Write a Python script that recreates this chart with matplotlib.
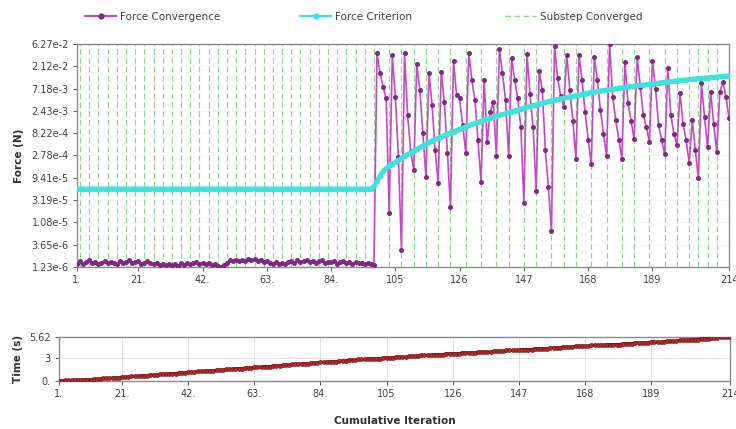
import numpy as np
import matplotlib
matplotlib.use("Agg")
import matplotlib.pyplot as plt
from matplotlib.lines import Line2D

# ---------------------------------------------------------------- data
iterations = np.arange(1, 215)

force_convergence = [
    # substeps 1-33 (iterations 1-98)
    1.45e-6, 1.62e-6, 1.40e-6, 1.55e-6, 1.70e-6, 1.48e-6, 1.58e-6, 1.42e-6, 1.50e-6, 1.66e-6,
    1.46e-6, 1.60e-6, 1.52e-6, 1.43e-6, 1.68e-6, 1.50e-6, 1.57e-6, 1.72e-6, 1.47e-6, 1.55e-6,
    1.62e-6, 1.44e-6, 1.51e-6, 1.66e-6, 1.49e-6, 1.40e-6, 1.53e-6, 1.38e-6, 1.45e-6, 1.35e-6,
    1.42e-6, 1.33e-6, 1.40e-6, 1.30e-6, 1.46e-6, 1.38e-6, 1.52e-6, 1.41e-6, 1.48e-6, 1.56e-6,
    1.44e-6, 1.50e-6, 1.39e-6, 1.47e-6, 1.36e-6, 1.42e-6, 1.32e-6, 1.23e-6, 1.38e-6, 1.52e-6,
    1.74e-6, 1.66e-6, 1.70e-6, 1.62e-6, 1.76e-6, 1.68e-6, 1.82e-6, 1.71e-6, 1.78e-6, 1.64e-6,
    1.69e-6, 1.58e-6, 1.63e-6, 1.50e-6, 1.44e-6, 1.55e-6, 1.39e-6, 1.47e-6, 1.41e-6, 1.56e-6,
    1.62e-6, 1.50e-6, 1.70e-6, 1.58e-6, 1.66e-6, 1.74e-6, 1.55e-6, 1.68e-6, 1.52e-6, 1.63e-6,
    1.71e-6, 1.49e-6, 1.60e-6, 1.54e-6, 1.67e-6, 1.45e-6, 1.58e-6, 1.62e-6, 1.48e-6, 1.55e-6,
    1.43e-6, 1.60e-6, 1.47e-6, 1.52e-6, 1.40e-6, 1.50e-6, 1.44e-6, 1.38e-6,
    # substeps 34-60 (iterations 99-214)
    4.0e-2, 1.5e-2, 7.9e-3, 4.45e-3, 1.7e-5,
    3.67e-2, 4.8e-3, 2.6e-4, 2.8e-6,
    4.0e-2, 2.0e-3, 3.5e-4, 1.36e-4,
    2.37e-2, 6.7e-3, 8.1e-4, 9.8e-5,
    1.55e-2, 3.2e-3, 3.6e-4, 7.3e-5,
    1.63e-2, 3.8e-3, 3.2e-4, 2.3e-5,
    2.79e-2, 5.2e-3, 4.45e-3, 1.2e-3, 3.2e-4,
    4.1e-2, 1.09e-2, 4.1e-3, 5.8e-4, 7.7e-5,
    1.09e-2, 5.4e-4, 2.3e-3, 3.8e-3, 2.7e-4,
    4.8e-2, 1.5e-2, 4.1e-3, 2.7e-4,
    3.12e-2, 1.09e-2, 4.45e-3, 1.1e-3, 2.8e-5,
    3.85e-2, 5.5e-3, 1.1e-3, 5.0e-5,
    1.71e-2, 6.7e-3, 3.6e-4, 6.0e-5, 7.1e-6,
    5.7e-2, 1.2e-2, 5.0e-3, 2.97e-3,
    3.67e-2, 6.7e-3, 1.5e-3, 2.4e-4,
    3.67e-2, 1.09e-2, 2.3e-3, 6.0e-4, 1.82e-4,
    3.27e-2, 1.09e-2, 2.5e-3, 8.0e-4, 2.7e-4,
    6.27e-2, 4.8e-3, 1.55e-3, 6.0e-4, 2.4e-4,
    2.65e-2, 3.5e-3, 1.5e-3, 6.05e-4,
    3.27e-2, 7.9e-3, 2.0e-3, 1.12e-3, 5.4e-4,
    2.79e-2, 7.2e-3, 1.2e-3, 5.8e-4, 3.0e-4,
    1.92e-2, 1.98e-3, 8.0e-4, 4.6e-4,
    5.9e-3, 1.3e-3, 5.8e-4, 1.94e-4,
    1.55e-3, 3.6e-4, 9.1e-5,
    9.2e-3, 1.8e-3, 4.2e-4,
    6.2e-3, 1.3e-3, 3.3e-4,
    6.0e-3, 1.0e-2, 4.8e-3, 1.7e-3,
]

force_criterion = [
    5.5e-5, 5.5e-5, 5.5e-5, 5.5e-5, 5.5e-5, 5.5e-5, 5.5e-5, 5.5e-5, 5.5e-5, 5.5e-5,
    5.5e-5, 5.5e-5, 5.5e-5, 5.5e-5, 5.5e-5, 5.5e-5, 5.5e-5, 5.5e-5, 5.5e-5, 5.5e-5,
    5.5e-5, 5.5e-5, 5.5e-5, 5.5e-5, 5.5e-5, 5.5e-5, 5.5e-5, 5.5e-5, 5.5e-5, 5.5e-5,
    5.5e-5, 5.5e-5, 5.5e-5, 5.5e-5, 5.5e-5, 5.5e-5, 5.5e-5, 5.5e-5, 5.5e-5, 5.5e-5,
    5.5e-5, 5.5e-5, 5.5e-5, 5.5e-5, 5.5e-5, 5.5e-5, 5.5e-5, 5.5e-5, 5.5e-5, 5.5e-5,
    5.5e-5, 5.5e-5, 5.5e-5, 5.5e-5, 5.5e-5, 5.5e-5, 5.5e-5, 5.5e-5, 5.5e-5, 5.5e-5,
    5.5e-5, 5.5e-5, 5.5e-5, 5.5e-5, 5.5e-5, 5.5e-5, 5.5e-5, 5.5e-5, 5.5e-5, 5.5e-5,
    5.5e-5, 5.5e-5, 5.5e-5, 5.5e-5, 5.5e-5, 5.5e-5, 5.5e-5, 5.5e-5, 5.5e-5, 5.5e-5,
    5.5e-5, 5.5e-5, 5.5e-5, 5.5e-5, 5.5e-5, 5.5e-5, 5.5e-5, 5.5e-5, 5.5e-5, 5.5e-5,
    5.5e-5, 5.5e-5, 5.5e-5, 5.5e-5, 5.5e-5, 5.5e-5, 5.5e-5, 6.2e-5, 8.0e-5, 1.05e-4,
    1.3e-4, 1.5e-4, 1.7e-4, 1.85e-4, 2.0e-4, 2.2e-4, 2.45e-4, 2.7e-4, 2.95e-4, 3.2e-4,
    3.5e-4, 3.8e-4, 4.1e-4, 4.5e-4, 4.9e-4, 5.3e-4, 5.7e-4, 6.1e-4, 6.5e-4, 6.9e-4,
    7.4e-4, 7.9e-4, 8.4e-4, 8.9e-4, 9.5e-4, 1.01e-3, 1.07e-3, 1.13e-3, 1.2e-3, 1.27e-3,
    1.34e-3, 1.41e-3, 1.48e-3, 1.56e-3, 1.64e-3, 1.72e-3, 1.8e-3, 1.88e-3, 1.97e-3, 2.06e-3,
    2.15e-3, 2.25e-3, 2.35e-3, 2.46e-3, 2.57e-3, 2.68e-3, 2.8e-3, 2.92e-3, 3.05e-3, 3.18e-3,
    3.31e-3, 3.44e-3, 3.57e-3, 3.7e-3, 3.84e-3, 3.98e-3, 4.12e-3, 4.26e-3, 4.41e-3, 4.56e-3,
    4.71e-3, 4.86e-3, 5.01e-3, 5.16e-3, 5.32e-3, 5.48e-3, 5.64e-3, 5.8e-3, 5.96e-3, 6.12e-3,
    6.28e-3, 6.44e-3, 6.6e-3, 6.76e-3, 6.92e-3, 7.08e-3, 7.24e-3, 7.4e-3, 7.56e-3, 7.72e-3,
    7.88e-3, 8.04e-3, 8.2e-3, 8.36e-3, 8.52e-3, 8.68e-3, 8.85e-3, 9.02e-3, 9.19e-3, 9.36e-3,
    9.53e-3, 9.7e-3, 9.87e-3, 1.004e-2, 1.021e-2, 1.038e-2, 1.055e-2, 1.072e-2, 1.089e-2, 1.106e-2,
    1.123e-2, 1.14e-2, 1.157e-2, 1.174e-2, 1.191e-2, 1.208e-2, 1.225e-2, 1.243e-2, 1.261e-2, 1.279e-2,
    1.297e-2, 1.315e-2, 1.333e-2, 1.351e-2,
]

# iterations at which a substep converged
substep_converged = [
    2, 5, 8, 11, 14, 17, 20, 23, 26, 29, 32, 35, 38, 41, 44, 47, 50,
    53, 56, 59, 62, 65, 68, 71, 74, 77, 80, 83, 86, 89, 92, 95, 98,
    103, 107, 111, 115, 119, 123, 128, 133, 138, 142, 147, 151, 156,
    160, 164, 169, 174, 179, 183, 188, 193, 197, 201, 204, 207, 210,
]

# solution time of each substep (s); the last substep is still running
substep_time = [
    0.04, 0.08, 0.12, 0.17, 0.24, 0.32, 0.41, 0.50, 0.59, 0.68, 0.77,
    0.86, 0.95, 1.04, 1.13, 1.22, 1.31, 1.40, 1.49, 1.58, 1.67, 1.76,
    1.85, 1.94, 2.03, 2.12, 2.21, 2.30, 2.39, 2.48, 2.57, 2.66, 2.75,
    2.85, 2.96, 3.06, 3.17, 3.28, 3.38, 3.49, 3.60, 3.70, 3.81, 3.92,
    4.02, 4.13, 4.24, 4.34, 4.45, 4.56, 4.66, 4.77, 4.88, 4.98, 5.09,
    5.20, 5.30, 5.41, 5.52, 5.62,
]

x_ticks = [1, 21, 42, 63, 84, 105, 126, 147, 168, 189, 214]
x_tick_labels = ["1.", "21.", "42.", "63.", "84.", "105", "126", "147", "168", "189", "214"]
force_ticks = [1.23e-6, 3.65e-6, 1.08e-5, 3.19e-5, 9.41e-5, 2.78e-4,
               8.22e-4, 2.43e-3, 7.18e-3, 2.12e-2, 6.27e-2]
force_tick_labels = ["1.23e-6", "3.65e-6", "1.08e-5", "3.19e-5", "9.41e-5", "2.78e-4",
                     "8.22e-4", "2.43e-3", "7.18e-3", "2.12e-2", "6.27e-2"]
time_ticks = [0, 3, 5.62]
time_tick_labels = ["0.", "3", "5.62"]

# time value for every iteration of each substep
substep_ends = substep_converged + [int(iterations[-1])]
iters_per_substep = np.diff([0] + substep_ends)
time_per_iteration = np.repeat(substep_time, iters_per_substep)

# ---------------------------------------------------------------- style
C_FORCE = "#c24ac2"
C_FORCE_MK = "#7e2a82"
C_CRIT = "#3fe3da"
C_SUB = "#94d394"
C_TIME = "#7a1414"
C_TIME_MK = "#b52a2a"
C_TXT = "#404040"
C_FRAME = "#8a8a8a"

plt.rcParams["font.family"] = ["DejaVu Sans"]

fig = plt.figure(figsize=(7.36, 4.29), dpi=100)
fig.patch.set_facecolor("white")

# ---------------------------------------------------------------- force plot
ax1 = fig.add_axes([77 / 736, 1 - 267 / 429, 652 / 736, 223 / 429])
for it in substep_converged:
    ax1.axvline(it, color=C_SUB, lw=0.85, ls=(0, (5, 2.5)), zorder=1)
ax1.set_yscale("log")
ax1.set_xlim(1, 214)
ax1.set_ylim(1.23e-6, 6.27e-2)
ax1.plot(iterations, force_convergence, color=C_FORCE, lw=1.2, marker="o", ms=2.6,
         mfc=C_FORCE_MK, mec=C_FORCE_MK, zorder=3)
ax1.plot(iterations, force_criterion, color=C_CRIT, lw=3.3, marker="o", ms=2.8,
         mfc=C_CRIT, mec=C_CRIT, zorder=4)
ax1.set_yticks(force_ticks)
ax1.set_yticklabels(force_tick_labels)
ax1.minorticks_off()
ax1.set_xticks(x_ticks)
ax1.set_xticklabels(x_tick_labels)
ax1.yaxis.grid(True, color="#e4e4e4", lw=0.6, ls=(0, (1, 2)), zorder=0)
ax1.tick_params(labelsize=7, colors=C_TXT, length=3, width=0.6, pad=3)
ax1.set_ylabel("Force (N)", fontsize=7.5, fontweight="bold", color="#303030", labelpad=5)
for sp in ax1.spines.values():
    sp.set_color(C_FRAME)
    sp.set_linewidth(1.0)

# ---------------------------------------------------------------- time plot
ax2 = fig.add_axes([59 / 736, 1 - 381 / 429, 671 / 736, 44 / 429])
ax2.set_xlim(1, 214)
ax2.set_ylim(0, 5.62)
ax2.plot(iterations, time_per_iteration, color=C_TIME, lw=2.2, marker="o", ms=2.8,
         mfc=C_TIME_MK, mec=C_TIME, mew=0.5, zorder=3)
ax2.set_xticks(x_ticks)
ax2.set_xticklabels(x_tick_labels)
ax2.set_yticks(time_ticks)
ax2.set_yticklabels(time_tick_labels)
ax2.grid(True, color="#dcdcdc", lw=0.6, zorder=0)
ax2.tick_params(labelsize=7, colors=C_TXT, length=3, width=0.6, pad=3)
ax2.set_ylabel("Time (s)", fontsize=7.5, fontweight="bold", color="#303030", labelpad=4)
ax2.set_xlabel("Cumulative Iteration", fontsize=7.5, fontweight="bold", color="#303030",
               labelpad=12)
for sp in ax2.spines.values():
    sp.set_color(C_FRAME)
    sp.set_linewidth(1.0)

# ---------------------------------------------------------------- legend
legend_items = [
    (Line2D([], [], color=C_FORCE, lw=1.6, marker="o", ms=3.5, mfc=C_FORCE_MK, mec=C_FORCE_MK),
     "Force Convergence", 85),
    (Line2D([], [], color=C_CRIT, lw=1.6, marker="o", ms=3.5, mfc=C_CRIT, mec=C_CRIT),
     "Force Criterion", 300),
    (Line2D([], [], color=C_SUB, lw=1.0, ls=(0, (4, 2.5))),
     "Substep Converged", 505),
]
for handle, label, xpix in legend_items:
    fig.legend([handle], [label], loc="center left",
               bbox_to_anchor=(xpix / 736, 1 - 17 / 429), frameon=False,
               fontsize=7.5, handlelength=3.0, handletextpad=0.4,
               borderpad=0, borderaxespad=0, labelcolor=C_TXT)

fig.savefig("out.png", dpi=100, facecolor="white")
